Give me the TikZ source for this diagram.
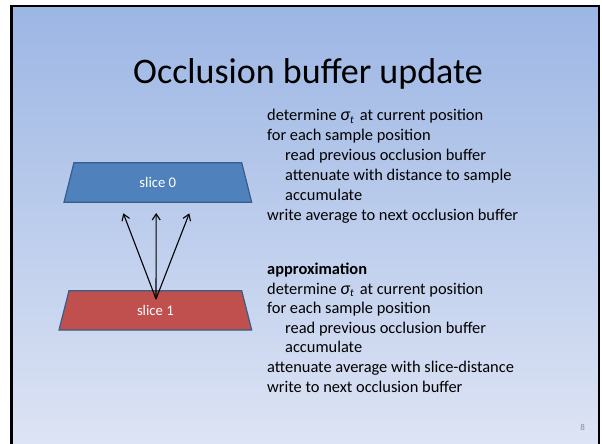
\documentclass[tikz,border=0pt]{standalone}
\usepackage{fontspec}
\setmainfont{Carlito}
\usetikzlibrary{arrows.meta}
\definecolor{bgtop}{RGB}{156,182,228}
\definecolor{bgbot}{RGB}{221,228,244}
\definecolor{sliceblue}{RGB}{79,129,189}
\definecolor{sliceedge}{RGB}{56,93,138}
\definecolor{slicered}{RGB}{192,80,77}
\definecolor{pagenum}{RGB}{140,140,140}
\newcommand{\sigmat}{\textit{\fontsize{18}{19.7}\selectfont σ\textsubscript{\fontsize{11}{12}\selectfont t}}\hspace{2pt}}
\begin{document}
\begin{tikzpicture}[x=1pt,y=-1pt,
  body/.style={anchor=base west,inner sep=0pt,font=\fontsize{16.4}{19.7}\selectfont},
  slicebox/.style={draw=sliceedge,line width=1.2pt},
  slicelabel/.style={text=white,inner sep=0pt,font=\fontsize{14.7}{17}\selectfont},
  ray/.style={line width=1.1pt,-{Straight Barb[length=6pt,width=8pt]}}]
\useasboundingbox (0,0) rectangle (602,444);
\fill[white] (0,0) rectangle (602,444);
% slide background and frame
\shade[top color=bgtop,bottom color=bgbot] (11.3,6.2) rectangle (598.8,444);
\draw[line width=2.5pt] (11.3,470) -- (11.3,6.2) -- (598.8,6.2) -- (598.8,470);
% title
\node[anchor=base,inner sep=0pt,font=\fontsize{36}{43}\selectfont] (title) at (308,83) {Occlusion buffer update};
% slices
\draw[slicebox,fill=sliceblue] (74,162.7) -- (241.7,162.7) -- (251.7,202.3) -- (64,202.3) -- cycle;
\draw[slicebox,fill=slicered] (69,290.7) -- (241.7,290.7) -- (251.7,330) -- (59,330) -- cycle;
\node[slicelabel] (s0) at (157.8,182.5) {slice 0};
\node[slicelabel] (s1) at (155.4,310.4) {slice 1};
% rays from slice 1 towards slice 0
\coordinate (src) at (156,299);
\coordinate (tl) at (123.3,213.3);
\coordinate (tm) at (156.2,213);
\coordinate (tr) at (189.3,213.3);
\draw[ray] (src) -- (tl);
\draw[ray] (src) -- (tm);
\draw[ray] (src) -- (tr);
% exact algorithm
\node[body] (a1) at (267,120.7) {determine \sigmat{} at current position};
\node[body] (a2) at (267,140.7) {for each sample position};
\node[body] (a3) at (285,160.7) {read previous occlusion buffer};
\node[body] (a4) at (285,180.7) {attenuate with distance to sample};
\node[body] (a5) at (285,200.7) {accumulate};
\node[body] (a6) at (267,220.7) {write average to next occlusion buffer};
% approximation
\node[body,font=\fontsize{16.4}{19.7}\selectfont\bfseries] (b0) at (267,274.3) {approximation};
\node[body] (b1) at (267,294) {determine \sigmat{} at current position};
\node[body] (b2) at (267,313.6) {for each sample position};
\node[body] (b3) at (285,333.2) {read previous occlusion buffer};
\node[body] (b4) at (285,352.8) {accumulate};
\node[body] (b5) at (267,372.4) {attenuate average with slice-distance};
\node[body] (b6) at (267,392) {write to next occlusion buffer};
% page number
\node[text=pagenum,inner sep=0pt,font=\fontsize{9}{10}\selectfont] (pg) at (582.7,427.7) {8};
\end{tikzpicture}
\end{document}
